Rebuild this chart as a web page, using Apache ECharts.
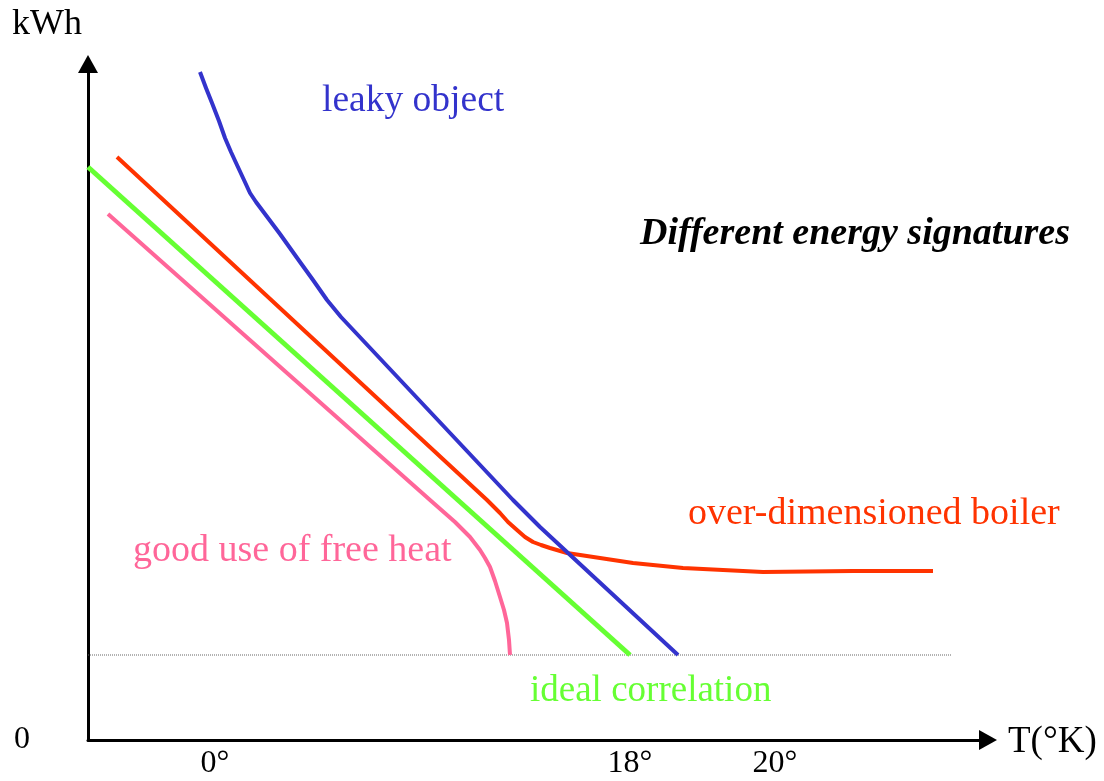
<!DOCTYPE html>
<html>
<head>
<meta charset="utf-8">
<script src="https://cdn.jsdelivr.net/npm/echarts@6/dist/echarts.min.js"></script>
<style>html,body{margin:0;padding:0;background:#fff}#c{width:1104px;height:781px}</style>
</head>
<body>
<div id="c"></div>
<script>
// Schematic units (x: relative temperature position, y: relative energy)
const tickPositions = [127, 542, 687];
const tickLabels = ['0°', '18°', '20°'];
const baseLevel = 85;
const baseLineX = [0, 864];

const idealCorrelation = [[0, 573], [542, 85]];
const freeHeat = [[20, 526], [342, 240], [367, 218], [382, 203], [392, 190], [397, 182], [402, 173], [407, 159], [412, 143], [416, 130], [419, 117], [421, 100], [422, 85]];
const overBoiler = [[29, 583], [399, 240], [405, 234], [412, 227], [420, 218], [429, 210], [437, 203], [445, 198], [453, 195], [462, 192], [479, 187], [512, 182], [545, 177], [595, 172], [675, 168], [765, 169], [845, 169]];
const leaky = [[112, 668], [118, 652], [124, 637], [131, 619], [137, 602], [143, 588], [149, 575], [156, 560], [162, 547], [168, 538], [174, 530], [183, 518], [192, 506], [202, 492], [212, 478], [225, 460], [239, 440], [253, 423], [425, 240], [452, 213], [590, 85]];

const serif = '"Liberation Serif", "Times New Roman", serif';
const chart = echarts.init(document.getElementById('c'));
chart.setOption({
  animation: false,
  backgroundColor: '#ffffff',
  grid: {left: 88, right: 116, top: 64, bottom: 41, containLabel: false},
  xAxis: {
    type: 'value', min: 0, max: 900,
    splitLine: {show: false},
    axisTick: {show: false},
    axisLine: {show: true, lineStyle: {color: '#000', width: 3}, symbol: ['none', 'triangle'], symbolSize: [20, 18]},
    axisLabel: {
      customValues: tickPositions,
      formatter: v => tickLabels[tickPositions.indexOf(v)],
      fontFamily: serif, fontSize: 32, color: '#000', margin: 8
    }
  },
  yAxis: {
    type: 'value', min: 0, max: 676,
    splitLine: {show: false},
    axisTick: {show: false},
    axisLine: {show: true, onZero: false, lineStyle: {color: '#000', width: 3}, symbol: ['none', 'triangle'], symbolSize: [20, 18]},
    axisLabel: {
      customValues: [0],
      formatter: () => '0',
      fontFamily: serif, fontSize: 32, color: '#000', margin: 58
    }
  },
  series: [
    {type: 'line', data: baseLineX.map(x => [x, baseLevel]), symbol: 'none', lineStyle: {color: '#666', width: 1, type: 'dotted'}, z: 1},
    {type: 'line', name: 'good use of free heat', data: freeHeat, symbol: 'none', lineStyle: {color: '#ff6699', width: 4, join: 'round'}},
    {type: 'line', name: 'ideal correlation', data: idealCorrelation, symbol: 'none', lineStyle: {color: '#66ff33', width: 5}},
    {type: 'line', name: 'over-dimensioned boiler', data: overBoiler, symbol: 'none', lineStyle: {color: '#ff3300', width: 4, join: 'round'}},
    {type: 'line', name: 'leaky object', data: leaky, symbol: 'none', lineStyle: {color: '#3333cc', width: 4, join: 'round'}}
  ],
  graphic: [
    {type: 'text', left: 12, top: 7, style: {text: 'kWh', font: '36px ' + serif, fill: '#000'}},
    {type: 'text', left: 1008, top: 724, style: {text: 'T(°K)', font: '37px ' + serif, fill: '#000'}},
    {type: 'text', left: 322, top: 82, style: {text: 'leaky object', font: '37.5px ' + serif, fill: '#3333cc'}},
    {type: 'text', left: 640, top: 215, style: {text: 'Different energy signatures', font: 'italic bold 38px ' + serif, fill: '#000'}},
    {type: 'text', left: 688, top: 495, style: {text: 'over-dimensioned boiler', font: '38px ' + serif, fill: '#ff3300'}},
    {type: 'text', left: 133, top: 532, style: {text: 'good use of free heat', font: '38px ' + serif, fill: '#ff6699'}},
    {type: 'text', left: 530, top: 673, style: {text: 'ideal correlation', font: '37px ' + serif, fill: '#66ff33'}}
  ]
});
</script>
</body>
</html>
